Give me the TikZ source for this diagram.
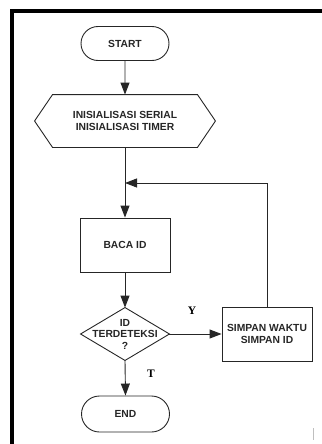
\documentclass[tikz,border=0pt]{standalone}
\usepackage{fontspec}
\setmainfont{Liberation Sans}
\newfontfamily\serifbf{Liberation Serif}
\usetikzlibrary{shapes.misc,shapes.geometric,arrows.meta}
\begin{document}
\begin{tikzpicture}[x=1pt,y=-1pt,
  line width=0.9pt, draw=black!85,
  every node/.style={font=\fontsize{10.3}{11.5}\selectfont\bfseries, align=center, inner sep=1pt, text=black!85},
  term/.style={draw, rounded rectangle, minimum width=90pt, minimum height=34pt},
  proc/.style={draw, rectangle, minimum width=90pt, minimum height=54pt},
  plain/.style={draw=none, rectangle},
  lbl/.style={font=\fontsize{11.5}{12}\selectfont\serifbf\bfseries, text=black},
  arr/.style={-{Triangle[length=12pt,width=9pt]}}
]
\useasboundingbox (0,0) rectangle (321,444);
% frame
\draw[draw=black, line width=4pt, line cap=rect] (12,444) -- (12,11.5) -- (321,11.5);
\draw[draw=gray!50, line width=1pt] (313.5,428) -- (313.5,440);

\node[term] (start) at (125,43.5) {START};
\node[plain, minimum width=144pt, minimum height=52pt] (init) at (125,121) {INISIALISASI SERIAL\\INISIALISASI TIMER};
\draw (init.north west) -- (init.north east) -- ([xshift=18pt]init.east) -- (init.south east) -- (init.south west) -- ([xshift=-18pt]init.west) -- cycle;
\node[proc] (baca) at (125,245) {BACA ID};
\node[plain, minimum width=88pt, minimum height=52pt, inner sep=0pt] (dec) at (125,334) {ID\\TERDETEKSI\\?};
\draw (dec.north) -- (dec.east) -- (dec.south) -- (dec.west) -- cycle;
\node[proc] (simpan) at (267,334) {SIMPAN WAKTU\\SIMPAN ID};
\node[term, minimum height=36pt] (end) at (125.5,414) {END};
\coordinate (j) at (125,183);

\draw[arr] (start) -- (init.north);
\draw (init.south) -- (j);
\draw[arr] (j) -- (baca.north);
\draw[arr] (baca) -- (dec.north);
\draw[arr] (dec.east) -- (simpan.west);
\draw[arr] (simpan.north) -- (simpan.north |- j) -- (j);
\draw[arr] (dec.south) -- (end.north);

\node[lbl] (y) at (192,311) {Y};
\node[lbl] (t) at (151,374) {T};
\end{tikzpicture}
\end{document}
